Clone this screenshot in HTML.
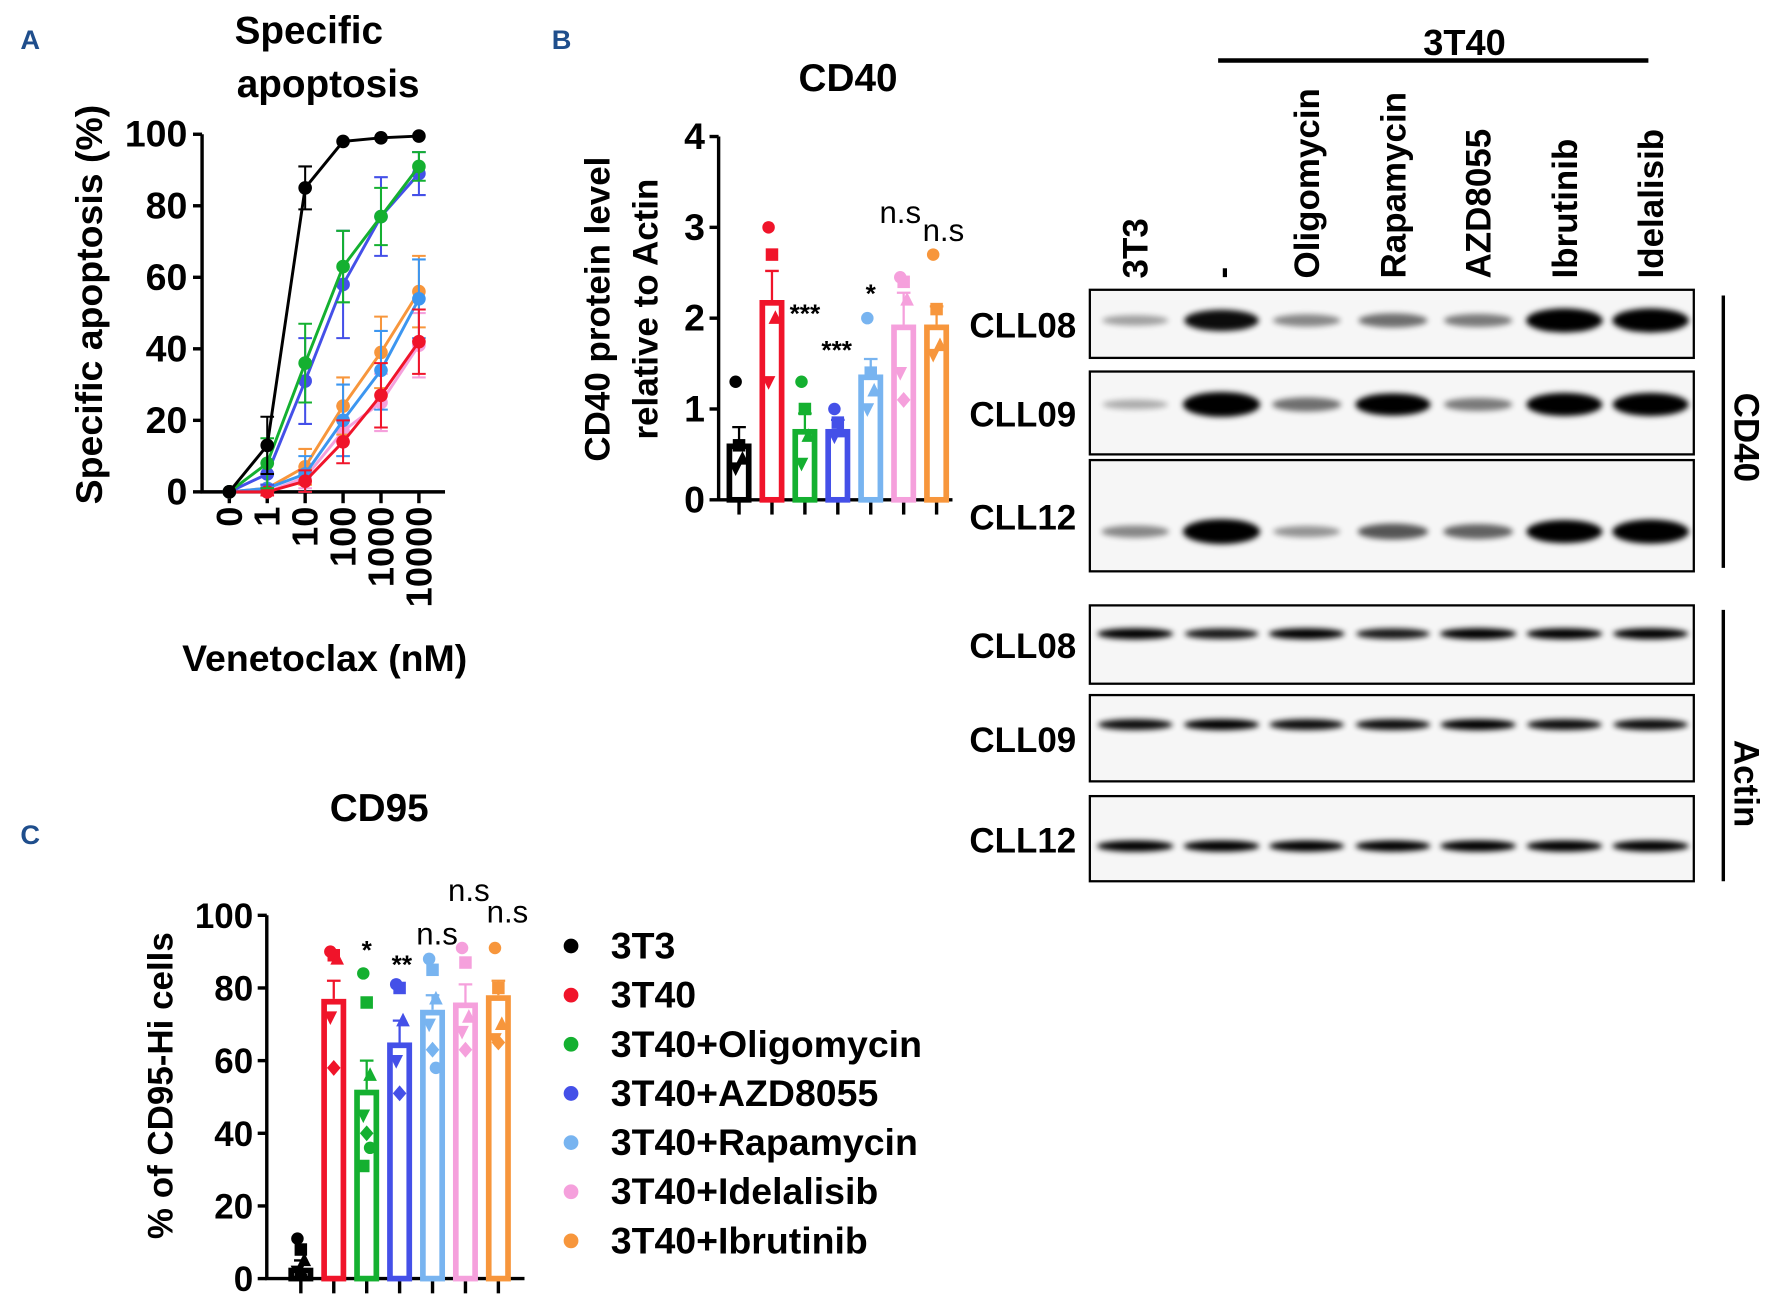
<!DOCTYPE html>
<html><head><meta charset="utf-8"><style>
html,body{margin:0;padding:0;background:#fff;}
svg{display:block;font-family:"Liberation Sans",Arial,sans-serif;}
.b{font-weight:bold;}
</style></head><body>
<svg id="fig" width="1771" height="1305" viewBox="0 0 1560 1149">
<defs><filter id="blur" x="-30%" y="-100%" width="160%" height="300%"><feGaussianBlur stdDeviation="2.5"/></filter></defs>
<text x="18" y="43" class="b" font-size="24" fill="#1f4e8c">A</text>
<text x="486" y="43" class="b" font-size="24" fill="#1f4e8c">B</text>
<text x="18" y="743" class="b" font-size="24" fill="#1f4e8c">C</text>
<g id="A"></g>
<g id="B" transform="translate(-3,0)"></g>
<g id="W" transform="translate(-6,0)"></g>
<g id="C" transform="translate(0,-4)"></g>
</svg>
<script>
// ---- Panel A data ----
const aDoses = ["0","1","10","100","1000","10000"];
const aYTicks = [0,20,40,60,80,100];
const aBlack = [0,13,85,98,99,99.5];
const aGreen = [0,8,36,63,77,91];
const aBlue = [0,5,31,58,77,89];
const aOrange = [0,1,7,24,39,56];
const aLightBlue = [0,1,5,20,34,54];
const aPink = [0,0,4,17,25,41];
const aRed = [0,0,3,14,27,42];
const aBlackErr = [0,8,6,0,0,0];
const aGreenErr = [0,7,11,10,8,4];
const aBlueErr = [0,3,12,15,11,6];
const aOrangeErr = [0,1,5,8,10,10];
const aLightBlueErr = [0,1,5,10,11,11];
const aPinkErr = [0,1,3,7,8,9];
const aRedErr = [0,1,3,6,9,9];
// ---- Panel B data ----
const bGroups = ["3T3","3T40","Oligomycin","AZD8055","Rapamycin","Idelalisib","Ibrutinib"];
const bYTicks = [0,1,2,3,4];
const bMeans = [0.62,2.2,0.78,0.78,1.38,1.93,1.93];
const bErrs = [0.18,0.32,0.17,0.1,0.17,0.35,0.2];
const bPoints = [[1.3,0.6,0.45,0.35],[3.0,2.7,2.0,1.3],[1.3,1.0,0.7,0.4],[1.0,0.85,0.75,0.7],[2.0,1.4,1.2,1.0],[2.45,2.4,2.2,1.4,1.1],[2.7,2.1,1.7,1.6]];
const bAnnot = ["","","***","***","*","n.s","n.s"];
// ---- Panel C data ----
const cYTicks = [0,20,40,60,80,100];
const cMeans = [3,77,52,65,74,76,78];
const cErrs = [2,5,8,6,4,5,4];
const cPoints = [[11,8,5,2,1],[90,89,88,72,58],[84,76,56,45,40,36,31],[81,80,71,60,51],[88,85,77,70,63,58],[91,87,72,68,63],[91,80,70,66,65]];
const cAnnot = ["","","*","**","n.s","n.s","n.s"];
const legendLabels = ["3T3","3T40","3T40+Oligomycin","3T40+AZD8055","3T40+Rapamycin","3T40+Idelalisib","3T40+Ibrutinib"];
// ---- Blot data (band intensity 0-1) ----
const lanes = ["3T3","-","Oligomycin","Rapamycin","AZD8055","Ibrutinib","Idelalisib"];
const rows = ["CLL08","CLL09","CLL12","CLL08","CLL09","CLL12"];
const cd40Int = [[0.2,0.8,0.3,0.4,0.35,0.95,0.95],[0.15,1,0.4,0.85,0.35,0.9,0.9],[0.3,1,0.25,0.5,0.45,0.9,0.95]];
const actinInt = [[0.9,0.75,0.9,0.75,0.95,0.9,0.85],[0.8,0.85,0.8,0.8,0.85,0.8,0.8],[0.95,0.9,0.85,0.85,0.9,0.9,0.95]];

const NS="http://www.w3.org/2000/svg";
const TS=1.1;
const cols = ["#000000","#f0142a","#14b030","#4450e8","#78b4f0","#f5a0dc","#f7963c"];
function el(parent,tag,attrs){const e=document.createElementNS(NS,tag);for(const k in attrs)e.setAttribute(k,attrs[k]);parent.appendChild(e);return e;}
function txt(parent,x,y,s,size,attrs){const t=el(parent,'text',Object.assign({x:x,y:y,'font-size':size*TS,'font-weight':'bold'},attrs||{}));t.textContent=s;return t;}
function marker(g,i,j,x,y,c){
  const k=j%5;let m;
  if(k===0)m=el(g,'circle',{cx:x,cy:y,r:5.5,fill:c});
  else if(k===1)m=el(g,'rect',{x:x-5.5,y:y-5.5,width:11,height:11,fill:c});
  else if(k===2)m=el(g,'polygon',{points:`${x},${y-7} ${x+6},${y+5} ${x-6},${y+5}`,fill:c});
  else if(k===3)m=el(g,'polygon',{points:`${x},${y+7} ${x+6},${y-5} ${x-6},${y-5}`,fill:c});
  else m=el(g,'polygon',{points:`${x},${y-7} ${x+6},${y} ${x},${y+7} ${x-6},${y}`,fill:c});
  
  
}
// ===== Panel A =====
(function(){
  const g=document.getElementById('A');
  const x0=202,dx=33.4,yb=433,yt=118;
  const X=i=>x0+i*dx, Y=v=>yb-(v/100)*(yb-yt);
  const t1=txt(g,272,38,"Specific",31,{'text-anchor':'middle'});
  
  
  const t2=txt(g,289,85,"apoptosis",31,{'text-anchor':'middle'});
  
  
  const ax=el(g,'path',{d:`M178,${yt} L178,${yb} L392,${yb}`,stroke:'#000','stroke-width':3,fill:'none'});
  
  
  aYTicks.forEach(v=>{el(g,'line',{x1:170,x2:178,y1:Y(v),y2:Y(v),stroke:'#000','stroke-width':3});
    const t=txt(g,165,Y(v)+11,String(v),30,{'text-anchor':'end'});
    
    });
  aDoses.forEach((d,i)=>{el(g,'line',{x1:X(i),x2:X(i),y1:yb,y2:yb+10,stroke:'#000','stroke-width':3});
    const t=txt(g,X(i)+11,446,d,29,{'text-anchor':'end',transform:`rotate(-90 ${X(i)+11} 446)`});
    
    });
  const yt2=txt(g,90,268,"Specific apoptosis (%)",30,{'text-anchor':'middle',transform:'rotate(-90 90 268)'});
  
  
  const xt=txt(g,286,591,"Venetoclax (nM)",30,{'text-anchor':'middle'});
  
  
  const series=[[aPink,aPinkErr,cols[5]],[aOrange,aOrangeErr,cols[6]],[aLightBlue,aLightBlueErr,'#3c96f0'],[aRed,aRedErr,cols[1]],[aBlue,aBlueErr,cols[3]],[aGreen,aGreenErr,cols[2]],[aBlack,aBlackErr,'#000']];
  series.forEach(([vals,errs,c])=>{
    const sg=el(g,'g',{});
    
    
    vals.forEach((v,i)=>{if(errs[i]>0){const x=X(i);
      el(sg,'path',{d:`M${x},${Y(v-errs[i])} L${x},${Y(v+errs[i])} M${x-6},${Y(v-errs[i])} h12 M${x-6},${Y(v+errs[i])} h12`,stroke:c,'stroke-width':1.8,fill:'none'});}});
    el(sg,'polyline',{points:vals.map((v,i)=>X(i)+','+Y(v)).join(' '),stroke:c,'stroke-width':2.6,fill:'none'});
    vals.forEach((v,i)=>{const p=el(sg,'circle',{cx:X(i),cy:Y(v),r:6,fill:c});
      
      });
  });
})();
// ===== Bar chart helper =====
function barChart(g,o){
  const X=i=>o.x0+i*o.dx, Y=v=>o.yb-(v/o.max)*(o.yb-o.yt);
  const ax=el(g,'path',{d:`M${o.ax},${o.yt} L${o.ax},${o.yb} L${o.xe},${o.yb}`,stroke:'#000','stroke-width':3,fill:'none'});
  
  
  o.ticks.forEach(v=>{el(g,'line',{x1:o.ax-8,x2:o.ax,y1:Y(v),y2:Y(v),stroke:'#000','stroke-width':3});
    const t=txt(g,o.ax-12,Y(v)+11,String(v),o.fs,{'text-anchor':'end'});
    
    });
  o.means.forEach((m,i)=>{
    const x=X(i),c=cols[i],w=o.bw;
    el(g,'line',{x1:x,x2:x,y1:o.yb,y2:o.yb+13,stroke:'#000','stroke-width':3});
    const r=el(g,'rect',{x:x-w/2+2.5,y:Y(m)+2.5,width:w-5,height:Math.max(0,o.yb-Y(m)-2.5),fill:'none',stroke:c,'stroke-width':5});
    
    
    el(g,'path',{d:`M${x},${Y(m)} L${x},${Y(m+o.errs[i])} M${x-6},${Y(m+o.errs[i])} h12`,stroke:c,'stroke-width':2,fill:'none'});
    o.pts[i].forEach((v,j)=>marker(g,i,j,x+((j%3)-1)*3,Y(v),c));
    if(o.annot[i]){const t=txt(g,x+o.annOff[i][0],Y(o.annOff[i][1]),o.annot[i],o.annot[i]==='n.s'?25:21,{'text-anchor':'middle','font-weight':o.annot[i]==='n.s'?'normal':'bold'});
      
      }
  });
}
// ===== Panel B =====
(function(){
  const g=document.getElementById('B');
  const t=txt(g,750,80,"CD40",31,{'text-anchor':'middle'});
  
  
  const a=txt(g,540,272,"CD40 protein level",28,{'text-anchor':'middle',transform:'rotate(-90 540 272)'});
  
  
  const b=txt(g,582,272,"relative to Actin",28,{'text-anchor':'middle',transform:'rotate(-90 582 272)'});
  
  
  barChart(g,{x0:654,dx:29,yb:440,yt:120,max:4,ax:636,xe:842,ticks:bYTicks,fs:30,means:bMeans,errs:bErrs,pts:bPoints,bw:22,annot:bAnnot,
    annOff:[[0,0],[0,0],[0,1.95],[-1,1.55],[0,2.17],[-3,3.05],[6,2.85]]});
})();
// ===== Panel C =====
(function(){
  const g=document.getElementById('C');
  const t=txt(g,334,727,"CD95",31,{'text-anchor':'middle'});
  
  
  const a=txt(g,152,960,"% of CD95-Hi cells",28,{'text-anchor':'middle',transform:'rotate(-90 152 960)'});
  
  
  barChart(g,{x0:265,dx:29,yb:1130,yt:810,max:100,ax:235,xe:462,ticks:cYTicks,fs:28,means:cMeans,errs:cErrs,pts:cPoints,bw:22,annot:cAnnot,
    annOff:[[0,0],[0,0],[0,88],[2,84],[4,92],[3,104],[8,98]]});
  legendLabels.forEach((s,i)=>{const y=837+i*43.3;
    const c=el(g,'circle',{cx:503,cy:y,r:6.5,fill:cols[i]});
    
    
    const tt=txt(g,538,y+11,s,30,{});
    
    });
})();
// ===== Western blot =====
(function(){
  const g=document.getElementById('W');
  const h=txt(g,1296,48,"3T40",29,{'text-anchor':'middle'});
  
  
  el(g,'line',{x1:1079,x2:1458,y1:53,y2:53,stroke:'#000','stroke-width':4});
  const lx=[1006,1082,1157,1233,1308,1384,1460];
  lanes.forEach((s,i)=>{const t=txt(g,lx[i]+11,245,s,28,{transform:`rotate(-90 ${lx[i]+11} 245)`});
    
    });
  const boxes=[[255,315],[327,400],[405,503],[533,602],[612,688],[701,776]];
  const bandY=[282,356,468,558,638,745];
  boxes.forEach((b,r)=>{
    const box=el(g,'rect',{x:966,y:b[0],width:532,height:b[1]-b[0],fill:'#f6f6f6',stroke:'#000','stroke-width':2});
    
    
    const t=txt(g,954,b[0]+(b[1]-b[0])/2+12,rows[r],28,{'text-anchor':'end'});
    
    
    const ints=r<3?cd40Int[r]:actinInt[r-3];
    ints.forEach((v,i)=>{const e=el(g,'ellipse',{cx:lx[i],cy:bandY[r],rx:28+6*v,ry:r<3?3+8*v:4+1*v,fill:'#000',opacity:Math.min(1,0.15+v),filter:'url(#blur)'});
      
      });
  });
  el(g,'line',{x1:1524,x2:1524,y1:260,y2:500,stroke:'#000','stroke-width':3});
  el(g,'line',{x1:1524,x2:1524,y1:537,y2:776,stroke:'#000','stroke-width':3});
  const c1=txt(g,1534,385,"CD40",28,{'text-anchor':'middle',transform:'rotate(90 1534 385)'});
  
  
  const c2=txt(g,1534,690,"Actin",28,{'text-anchor':'middle',transform:'rotate(90 1534 690)'});
  
  
})();
</script>
</body></html>
